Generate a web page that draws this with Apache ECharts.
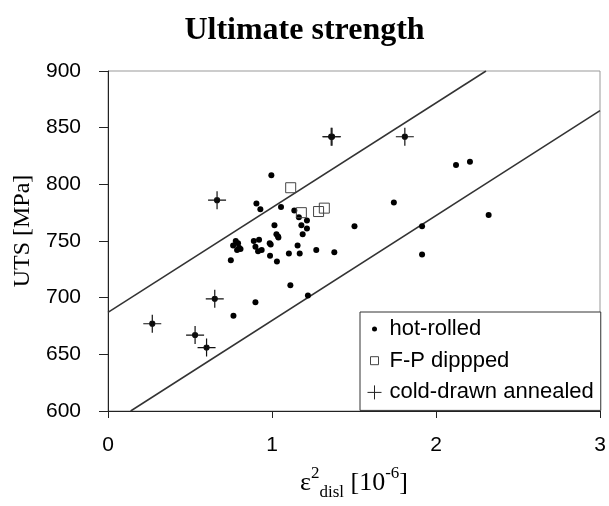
<!DOCTYPE html>
<html>
<head>
<meta charset="utf-8">
<script src="https://cdn.jsdelivr.net/npm/echarts@6/dist/echarts.min.js"></script>
<style>
  html, body { margin: 0; padding: 0; background: #fff; }
  #chart { width: 609px; height: 506px; }
</style>
</head>
<body>
<div id="chart"></div>
<script>
// values: [strain^2, UTS]
const hotRolled = [
  [0.996, 808], [0.905, 783], [0.929, 778], [1.055, 780], [1.136, 777],
  [1.164, 771], [1.213, 768], [1.179, 764], [1.213, 761], [1.187, 756],
  [1.015, 764], [1.027, 756], [1.037, 754], [1.039, 753], [1.156, 746],
  [1.270, 742], [1.380, 740], [1.103, 739], [1.169, 739], [0.986, 748],
  [0.992, 747], [0.889, 750], [0.921, 751], [0.899, 745], [0.915, 741],
  [0.937, 742], [0.779, 750], [0.793, 748], [0.763, 746], [0.799, 744],
  [0.787, 742], [0.808, 743], [0.749, 733], [0.988, 737], [1.030, 732],
  [1.112, 711], [1.219, 702], [0.899, 696], [0.765, 684], [2.122, 817],
  [2.207, 820], [1.743, 784], [2.321, 773], [1.503, 763], [1.915, 763],
  [1.915, 738]
];
const fpDipped = [[1.114, 797], [1.179, 775], [1.284, 776], [1.319, 779]];
const coldDrawn = [
  [1.361, 842], [1.366, 842], [0.665, 786], [1.810, 842], [0.651, 699],
  [0.270, 677], [0.531, 667], [0.601, 656]
];
// band lines, end points
const upperLine = [[0, 687], [2.305, 900]];
const lowerLine = [[0.138, 600], [3, 865]];

const xTicks = [0, 1, 2, 3];
const yTicks = [600, 650, 700, 750, 800, 850, 900];

const sans = 'Liberation Sans, Arial, sans-serif';
const serif = 'Liberation Serif, Times New Roman, serif';

// symbols (M points pad the box so legend icons keep their size)
const crossDot = 'path://M0,10L20,10M10,0L10,20M7.2,10A2.8,2.8 0 1 1 12.8,10A2.8,2.8 0 1 1 7.2,10Z';
const iconDot = 'path://M0,0M20,20M7.5,10A2.5,2.5 0 1 1 12.5,10A2.5,2.5 0 1 1 7.5,10Z';
const iconSquare = 'path://M0,0M20,20M6,6L14,6L14,14L6,14Z';
const iconCross = 'path://M0,0M20,20M3,10L17,10M10,3L10,17';

var myChart = echarts.init(document.getElementById('chart'));
myChart.setOption({
  animation: false,
  title: {
    text: 'Ultimate strength',
    left: 'center',
    top: 10,
    textStyle: { fontFamily: serif, fontWeight: 'bold', fontSize: 32, color: '#000' }
  },
  grid: {
    left: 108, right: 9, top: 71, bottom: 95,
    outerBoundsMode: 'none',
    show: true, borderColor: '#999', borderWidth: 1
  },
  legend: {
    orient: 'vertical',
    left: 360,
    top: 312,
    padding: [6, 7, 7, 4],
    itemWidth: 20,
    itemHeight: 20,
    itemGap: 9.7,
    itemTextGap: 5,
    backgroundColor: '#fff',
    borderColor: '#333',
    borderWidth: 1,
    textStyle: { fontFamily: sans, fontSize: 22, color: '#000' },
    data: [
      { name: 'hot-rolled', icon: iconDot, itemStyle: { color: '#000', borderWidth: 0 } },
      { name: 'F-P dippped', icon: iconSquare, itemStyle: { color: 'transparent', borderColor: '#444', borderWidth: 1 } },
      { name: 'cold-drawn annealed', icon: iconCross, itemStyle: { color: 'transparent', borderColor: '#222', borderWidth: 1 } }
    ]
  },
  xAxis: {
    type: 'value',
    min: xTicks[0],
    max: xTicks[xTicks.length - 1],
    interval: 1,
    splitLine: { show: false },
    axisLine: { show: true, lineStyle: { color: '#222', width: 1 } },
    axisTick: { show: true, length: 7, lineStyle: { color: '#222' } },
    axisLabel: { margin: 24, fontFamily: sans, fontSize: 21, color: '#000' },
    name: '{e|ε}{sup|2}{sub|disl}{m| [10}{sup|-6}{m|]}',
    nameLocation: 'middle',
    nameGap: 54,
    nameTextStyle: {
      rich: {
        e: { fontFamily: serif, fontSize: 26, color: '#000', verticalAlign: 'middle', lineHeight: 36 },
        m: { fontFamily: serif, fontSize: 26, color: '#000', verticalAlign: 'middle', lineHeight: 36 },
        sup: { fontFamily: serif, fontSize: 17, color: '#000', verticalAlign: 'top', lineHeight: 36 },
        sub: { fontFamily: serif, fontSize: 17, color: '#000', verticalAlign: 'bottom', lineHeight: 36 }
      }
    }
  },
  yAxis: {
    type: 'value',
    min: yTicks[0],
    max: yTicks[yTicks.length - 1],
    interval: 50,
    splitLine: { show: false },
    axisLine: { show: true, lineStyle: { color: '#222', width: 1 } },
    axisTick: { show: true, length: 9, lineStyle: { color: '#222' } },
    axisLabel: { margin: 27, fontFamily: sans, fontSize: 21, color: '#000' },
    name: 'UTS [MPa]',
    nameLocation: 'middle',
    nameGap: 68,
    nameTextStyle: { fontFamily: serif, fontSize: 24, color: '#000', padding: [0, 0, 0, 20] }
  },
  series: [
    {
      name: 'upper', type: 'line', data: upperLine, symbol: 'none', silent: true,
      lineStyle: { color: '#333', width: 1.5 }, z: 1
    },
    {
      name: 'lower', type: 'line', data: lowerLine, symbol: 'none', silent: true,
      lineStyle: { color: '#333', width: 1.5 }, z: 1
    },
    {
      name: 'hot-rolled', type: 'scatter', data: hotRolled,
      symbol: 'circle', symbolSize: 6,
      itemStyle: { color: '#000', opacity: 1 }, z: 3
    },
    {
      name: 'F-P dippped', type: 'scatter', data: fpDipped,
      symbol: 'rect', symbolSize: 10,
      itemStyle: { color: 'transparent', borderColor: '#444', borderWidth: 1, opacity: 1 }, z: 4
    },
    {
      name: 'cold-drawn annealed', type: 'scatter', data: coldDrawn,
      symbol: crossDot, symbolSize: 18,
      itemStyle: { color: '#000', borderColor: '#111', borderWidth: 1.2, opacity: 1 }, z: 4
    }
  ]
});
</script>
</body>
</html>
